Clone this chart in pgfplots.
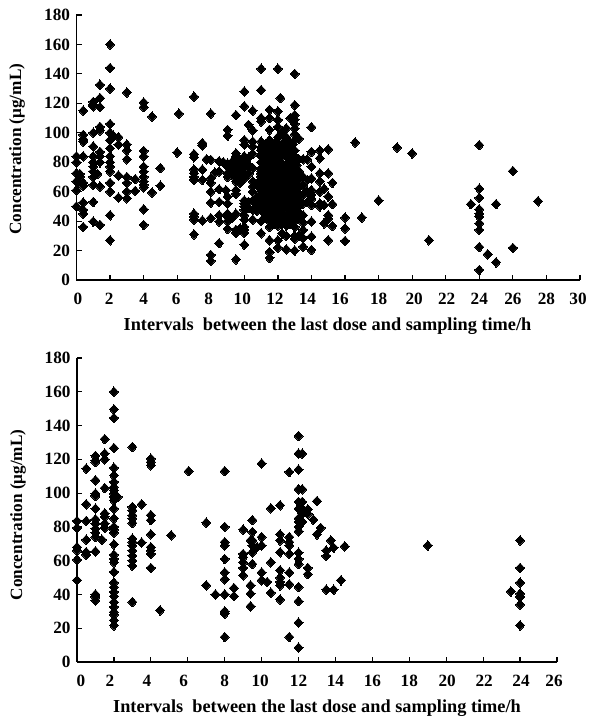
\documentclass[border=0pt]{standalone}
\usepackage{pgfplots}
\pgfplotsset{compat=1.18}
\usepackage{fontspec}
\setmainfont{Liberation Serif}
\newcommand{\lk}[2]{\kern#1pt #2}
\newcommand{\rk}[2]{#2\kern#1pt}
\tikzset{xlab/.style={font=\fontsize{18.3}{18}\selectfont\bfseries,anchor=center},ylab/.style={font=\fontsize{17.2}{17}\selectfont\bfseries,anchor=center}}
\pgfplotsset{
 panel/.style={
  scale only axis, clip=false,
  axis y line*=left, axis x line*=bottom,
  axis line style={line width=1.5pt,-},
  tick style={line width=1.2pt,black},
  tick align=inside, major tick length=5pt,
  xtick pos=bottom, ytick pos=left,
  ymin=0,ymax=180,ytick={0,20,...,180},
  scaled ticks=false,
  /pgf/number format/assume math mode=true,
  tick label style={font=\fontsize{17.2}{17}\selectfont\bfseries},
  xticklabel style={yshift=-10pt},
  yticklabel style={xshift=-3pt},
  only marks,
 },
 dia/.style={only marks,mark=diamond*,mark size=4.8pt,mark options={black,fill=black,xscale=1.25,line width=0pt}},
}
\begin{document}
\begin{tikzpicture}[x=1pt,y=1pt]
\path[use as bounding box] (0,0) rectangle (589,720);
\begin{axis}[panel,at={(76.5pt,440pt)},anchor=south west,width=503.5pt,height=265pt,
 xmin=0,xmax=30,xtick={0,2,...,30},
 xticklabels={\lk{3}{0},\rk{2}{2},4,\rk{2}{6},\rk{4}{8},\rk{4}{10},\rk{6}{12},\rk{8}{14},\rk{10}{16},18,\lk{4}{20},\lk{2}{22},24,26,28,\rk{4}{30}},
 xlabel={Intervals~ between the last dose and sampling time/h},
 ylabel={Concentration (μg/mL)},
 every axis x label/.style={xlab,at={(axis description cs:0.4985,-0.1736)}},
 every axis y label/.style={ylab,rotate=90,at={(axis description cs:-0.118,0.494)}},
]
\addplot[dia] coordinates {
(0,84)(0,80)(0,72.5)(0,67)(0,61)(0,50)(0.2,72)(0.2,70)
(0.4,115)(0.4,98.6)(0.4,95.6)(0.4,94)(0.4,84)(0.4,66)(0.4,64)(0.4,52.6)(0.4,47.6)(0.4,45)(0.4,36)
(1,121)(1,119)(1,118)(1,100)(1,90.7)(1,84)(1,80)(1,77)(1,73.7)(1,70)(1,64.6)(1,53)(1,39.7)
(1.4,132.6)(1.4,123.6)(1.4,117.4)(1.4,104)(1.4,101.6)(1.4,87)(1.4,84)(1.4,80)(1.4,63.5)(1.4,37.4)(1.25,72)
(2,160)(2,144)(2,130)(2,106)(2,100)(2,95)(2,89.5)(2,84)(2,80)(2,77)(2,73.7)(2,66)(2,60)(2,44)(2,27)
(2.2,98)(2.5,97)(2.5,92)(2.5,71)(2.5,56)
(3,127.4)(3,92)(3,88)(3,82)(3,70)(3,66)(3,60)(3,55.5)(3.5,68.5)(3.5,60.5)
(4,120.6)(4,117.4)(4,87.7)(4,84)(4,77)(4,73.7)(4,70)(4,67)(4,64.6)(4,63)(4,48)(4,37.4)
(4.5,111)(4.5,59.4)(5,76)(5,64)(6,86.6)(6.1,113)
(7,124.5)(7,85.5)(7,83.4)(7,75)(7,72.5)(7,70)(7,68)(7,45)(7,43)(7,41)(7,31)
(7.5,93)(7.5,91.4)(7.5,75)(7.5,68)(7.5,40.4)(7.75,82)
(8,113)(8,81.6)(8,69)(8,66)(8,60)(8,52.6)(8,42)(8,17)(8,13)
(8.25,73)(8.5,80.7)(8.5,73.7)(8.5,61.7)(8.5,53)(8.5,44)(8.5,39.7)(8.5,25)(8.9,61)
(8.75,80)(9,102)(9,98)(9,79)(9,77)(9,72.5)(9,70)(9,56.7)(9,52)(9,45)(9,43)(9,40)(9,34.7)
(9.25,80)(9.25,74)(9.25,42)(9.5,112)(9.5,86)(9.5,84)(9.5,79)(9.5,76)(9.5,72.5)(9.5,69)(9.5,67)(9.5,61)(9.5,58.5)(9.5,45)(9.5,34)(9.5,32)(9.5,14)
(9.75,81)(9.75,72)(9.75,66)(9.75,35)
(10,128)(10,118)(10,95)(10,92)(10,84)(10,79)(10,76)(10,72.5)(10,69)(10,54)(10,52)(10,50)(10,47.6)(10,44)(10,41)(10,36)(10,34)(10,32)(10,24)
(10.25,105.4)(10.25,83)(10.25,53)(10.25,49)
(10.5,115)(10.5,101.6)(10.5,94)(10.5,90.7)(10.5,85.7)(10.5,76)(10.5,67)(10.5,63.5)(10.5,60)(10.5,54)(10.5,47.6)(10.5,41)
(10.75,65)(10.75,56)(10.75,50)(10.75,47)
(11,143.5)(11,129)(11,110)(11,107.7)(11,94)(11,88)(11,84)(11,80)(11,76)(11,72)(11,68)(11,64)(11,60)(11,56)(11,52)(11,48)(11,40)(11,31.7)
(11.25,92)(11.25,84)(11.25,78)(11.25,70)(11.25,65)(11.25,60)(11.25,55)(11.25,48)(11.25,42)
(11.5,115.6)(11.5,110)(11.5,102)(11.5,95)(11.5,90)(11.5,85)(11.5,80)(11.5,75)(11.5,70)(11.5,65)(11.5,60)(11.5,55)(11.5,50)(11.5,45)(11.5,40)(11.5,36)(11.5,27)(11.5,19)(11.5,15)
(11.75,92)(11.75,82)(11.75,76)(11.75,68)(11.75,62)(11.75,56)(11.75,50)(11.75,44)
(12,143.5)(12,114.5)(12,108.8)(12,104)(12,97)(12,92)(12,87)(12,82)(12,77)(12,72)(12,67)(12,62)(12,57)(12,52)(12,47)(12,42)(12,37)(12,27)(12,22)
(12.15,123.6)(12.25,100)(12.25,92)(12.25,84)(12.25,74)(12.25,66)(12.25,58)(12.25,50)(12.25,44)(12.25,38)(12.25,31.7)
(12.5,103)(12.5,97)(12.5,91)(12.5,85)(12.5,79)(12.5,73)(12.5,67)(12.5,61)(12.5,55)(12.5,49)(12.5,43)(12.5,37)(12.5,30)(12.5,20.8)
(12.75,110)(12.75,90)(12.75,80)(12.75,70)(12.75,62)(12.75,54)(12.75,46)(12.75,38)
(13,140)(13,118.8)(13,112)(13,109)(13,106)(13,103)(13,99)(13,95)(13,88)(13,84)(13,80)(13,76)(13,72)(13,68)(13,64)(13,60)(13,56)(13,52)(13,48)(13,44)(13,40)(13,36)(13,30)(13,28)(13,20)
(13.25,96)(13.25,82)(13.25,68)(13.25,58)(13.25,50)(13.25,42)(13.25,30)
(13.5,82)(13.5,70)(13.5,64)(13.5,58)(13.5,52)(13.5,44)(13.5,39)(13.5,34)(13.5,28.5)(13.5,22.6)
(13.75,82)(13.75,68)(13.75,60)(13.75,53)
(14,103.8)(14,87)(14,77)(14,69)(14,61)(14,58)(14,55)(14,51)(14,39.7)(14,29.5)(14,20.4)
(14.5,88)(14.5,82.7)(14.5,72.5)(14.5,67)(14.5,60)(14.5,52)(14.5,50)(14.75,62)(14.75,51)(14.75,38.5)
(15,88.8)(15,72.5)(15,56.7)(15,44)(15,41.7)(15,27)(15.25,66)(15.25,51.5)(15.25,36.7)
(16,42.4)(16,35)(16,26.5)(17,42.4)(16.6,93.4)(18,54)(19.1,90)(20,86)(21,27)
(24,91.6)(24,62)(24,55.8)(24,48)(24,45)(24,43)(24,38.5)(24,34)(24,22.4)(24,6.8)
(23.5,51.5)(25,51.5)(25,12)(24.5,17.5)(26,74)(26,21.8)(27.5,53.5)
(9.5,82)(9.75,78)(9.75,75)(10,82)(10.25,78)(10.25,72)
(11,90)(11,74)(11,70)(11,62)(11,58)(11,54)(11,50)(11.12,86)(11.12,81)(11.12,73)(11.12,66)(11.12,61)(11.12,52)(11.12,46)
(11.25,88)(11.25,81)(11.25,74)(11.25,67)(11.25,62)(11.25,57)(11.25,52)(11.25,45)
(11.4,88)(11.4,83)(11.4,77)(11.4,72)(11.4,67)(11.4,62)(11.4,57)(11.4,52)(11.4,47)
(11.6,92)(11.6,87)(11.6,78)(11.6,72)(11.6,63)(11.6,58)(11.6,52)(11.6,42)
(11.75,88)(11.75,79)(11.75,72)(11.75,65)(11.75,59)(11.75,53)(11.75,47)(11.75,38)
(11.9,94)(11.9,84)(11.9,74)(11.9,64)(11.9,54)(11.9,44)
(12.12,90)(12.12,80)(12.12,70)(12.12,60)(12.12,48)(12.12,40)
(12.25,88)(12.25,79)(12.25,70)(12.25,62)(12.25,54)(12.25,47)
(12.37,94)(12.37,86)(12.37,76)(12.37,68)(12.37,60)(12.37,52)(12.37,40)
(12.62,94)(12.62,83)(12.62,76)(12.62,65)(12.62,58)(12.62,50)(12.62,42)
(12.75,86)(12.75,76)(12.75,66)(12.75,58)(12.75,50)(12.75,42)
(12.87,92)(12.87,82)(12.87,72)(12.87,62)(12.87,52)(12.87,44)
(13.12,78)(13.12,70)(13.12,62)(13.12,54)(13.12,46)
(13.25,74)(13.25,63)(13.25,54)(13.25,46)
};
\end{axis}
\begin{axis}[panel,at={(77pt,58pt)},anchor=south west,width=480pt,height=304pt,
 xmin=0,xmax=26,xtick={0,2,...,26},
 xticklabels={\lk{8}{0},\rk{8}{2},\rk{8}{4},\rk{8}{6},8,\rk{3}{10},12,14,16,18,\lk{2}{20},\lk{2}{22},\lk{2}{24},\rk{6}{26}},
 xlabel={Intervals~ between the last dose and sampling time/h},
 ylabel={Concentration (μg/mL)},
 every axis x label/.style={xlab,at={(axis description cs:0.5,-0.1513)}},
 every axis y label/.style={ylab,rotate=90,at={(axis description cs:-0.123,0.484)}},
]
\addplot[dia] coordinates {
(0,83.5)(0,79.4)(0,68)(0,66)(0,60.6)(0,48.4)
(0.5,114.5)(0.5,93.4)(0.5,83.5)(0.5,72.4)(0.5,65)(0.5,63.5)
(1,122)(1,119.4)(1,118.4)(1,107.6)(1,99.7)(1,98.3)(1,90.8)(1,84.5)(1,82)(1,79)(1,76.6)(1,74)(1,65.5)(1,40)(1,38.5)(1,36.5)
(1.35,72.4)(1.5,132)(1.5,123.4)(1.5,120)(1.5,103)(1.5,88)(1.5,86)(1.5,82)(1.5,79.4)
(2,160)(2,149.6)(2,144.5)(2,126.7)(2,115)(2,110.5)(2,106.6)(2,103.6)(2,101.7)(2,99.7)(2,97.7)(2,95.7)(2,90.8)(2,85)(2,80)(2,78.4)(2,76.6)(2,69.7)(2,63.5)(2,61)(2,59)(2,53.3)(2,47)(2,44.4)(2,41.5)(2,39)(2,35.5)(2,32.6)(2,29.6)(2,28)(2,24.7)(2,21.7)(2.2,97.7)
(3,127.3)(3,91.8)(3,89.8)(3,86.9)(3,85)(3,82.3)(3,73)(3,71)(3,69)(3,66)(3,63)(3,60)(3,57)(3,35.5)
(3.5,93.4)(3.5,70.7)
(4,120.4)(4,118.4)(4,116.5)(4,87)(4,84)(4,75.6)(4,68)(4,66)(4,64)(4,55.7)
(4.5,30.6)(5.1,75)(6.05,113)(7,82.5)(7,45.4)(7.5,40)
(8,113)(8,80)(8,71)(8,69)(8,61)(8,53)(8,49)(8,40)(8,30)(8,28.6)(8,14.8)
(8.5,43.8)(8.5,39)
(9,78.4)(9,64)(9,62)(9,59)(9,55.7)(9,51.3)
(9.4,40.5)(9.4,45.4)(9.4,33)(9.4,72)
(9.5,84)(9.5,77)(9.5,72)(9.5,69)(9.5,65)(9.5,58)
(9.75,68)(10,117.5)(10,74)(10,69)(10,53)(10,48.4)(10.3,47.4)
(10.5,91)(10.5,59)(10.5,41)
(11,92.8)(11,75.6)(11,72)(11,65)(11,54.3)(11,50)(11,47.4)(11,45.4)(11,37)
(11.5,112.5)(11.5,74)(11.5,71)(11.5,69)(11.5,64)(11.5,53)(11.5,46)(11.5,14.8)
(12,133.8)(12,123.4)(12,113.9)(12,102.3)(12,94.8)(12,90.8)(12,85)(12,83)(12,80)(12,77.4)(12,64.7)(12,61)(12,58)(12,44.4)(12,36)(12,23.3)(12,8.5)
(12.2,123.4)(12.2,102.3)(12.2,94.8)(12.2,90.8)(12.2,87.8)(12.2,83)
(12.5,90.4)(12.5,87.8)(12.5,55.7)(12.5,52)
(13,95.3)(12.8,84.3)(13.2,79.4)(13,75.6)
(13.5,66)(13.5,62.8)(13.5,42.8)(13.75,72)(13.9,67.7)(13.9,42.8)(14.3,48.4)(14.5,68.5)
(19,69)
(24,72)(24,55.7)(24,47)(24,40.5)(24,38.5)(24,34)(24,21.7)(23.5,41.8)
};
\end{axis}
\end{tikzpicture}
\end{document}
